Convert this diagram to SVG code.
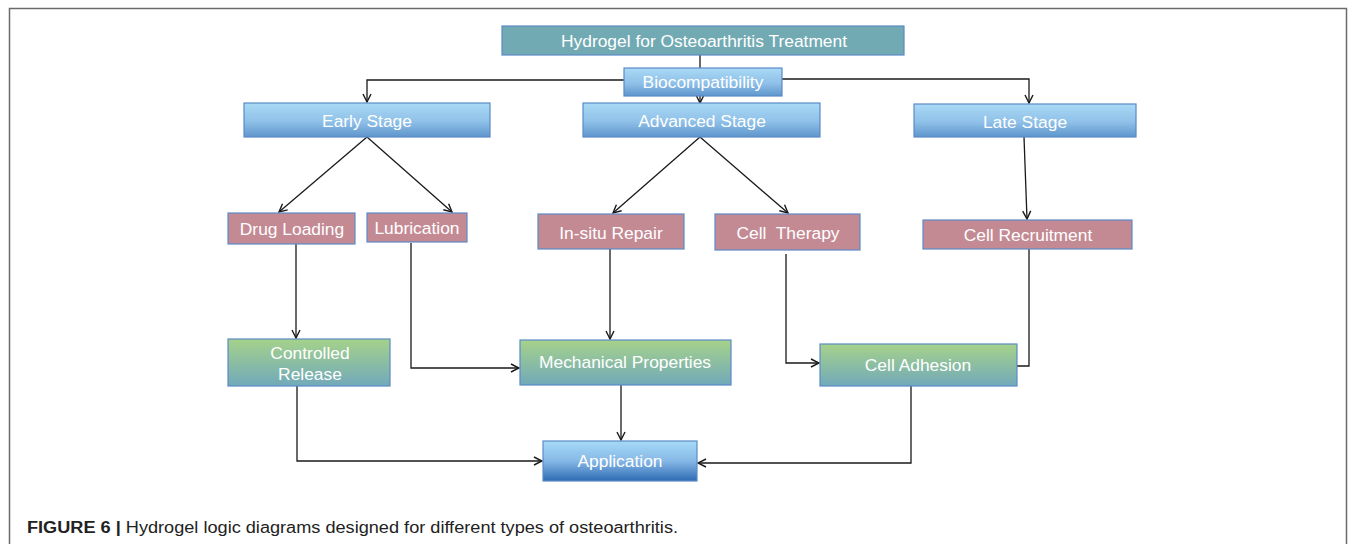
<svg xmlns="http://www.w3.org/2000/svg" width="1355" height="544" viewBox="0 0 1355 544">
<style>
.t{font-family:"Liberation Sans",Arial,sans-serif;font-size:17.4px;fill:#fff;text-anchor:middle}
.b{stroke:#5A8BC6;stroke-width:1.2}
.c{fill:none;stroke:#1a1a1a;stroke-width:1.3}
.cap{font-family:"Liberation Sans",Arial,sans-serif;font-size:16px;fill:#222}
</style>
<defs>
<linearGradient id="gb" x1="0" y1="0" x2="0" y2="1">
<stop offset="0" stop-color="#A9DAF5"/><stop offset="0.55" stop-color="#8FC0E8"/><stop offset="1" stop-color="#5E95CC"/>
</linearGradient>
<linearGradient id="ga" x1="0" y1="0" x2="0" y2="1">
<stop offset="0" stop-color="#A6DAF6"/><stop offset="0.5" stop-color="#86B8E6"/><stop offset="1" stop-color="#2E6BB4"/>
</linearGradient>
<linearGradient id="gg" x1="0" y1="0" x2="0" y2="1">
<stop offset="0" stop-color="#A6D28A"/><stop offset="1" stop-color="#71A9BA"/>
</linearGradient>
<marker id="ar" viewBox="0 0 10 10" refX="9" refY="5" markerWidth="10" markerHeight="10" markerUnits="userSpaceOnUse" orient="auto">
<path d="M1,1 L9,5 L1,9" fill="none" stroke="#1a1a1a" stroke-width="1.4"/>
</marker>
</defs>
<rect width="1355" height="544" fill="#fff"/>
<path d="M9.5,544 V8.5 H1346.5 V544" fill="none" stroke="#6b6b6b" stroke-width="1.5"/>

<g id="connectors">
<path class="c" d="M700,55 V68"/>
<path class="c" d="M624,80 H367 V102" marker-end="url(#ar)"/>
<path class="c" d="M782,79 H1029 V103" marker-end="url(#ar)"/>
<path class="c" d="M700,96 V103" marker-end="url(#ar)"/>
<path class="c" d="M367,137 L279,212" marker-end="url(#ar)"/>
<path class="c" d="M367,137 L452,212" marker-end="url(#ar)"/>
<path class="c" d="M700,137 L613,213" marker-end="url(#ar)"/>
<path class="c" d="M700,137 L788,213" marker-end="url(#ar)"/>
<path class="c" d="M1024,137 L1027,219" marker-end="url(#ar)"/>
<path class="c" d="M296,244 V338" marker-end="url(#ar)"/>
<path class="c" d="M411,243 V368 H519" marker-end="url(#ar)"/>
<path class="c" d="M610,249 V339" marker-end="url(#ar)"/>
<path class="c" d="M786,254 V363 H819" marker-end="url(#ar)"/>
<path class="c" d="M1029,249 V366 H1017"/>
<path class="c" d="M297,386 V461 H542" marker-end="url(#ar)"/>
<path class="c" d="M621,385 V440" marker-end="url(#ar)"/>
<path class="c" d="M911,386 V463 H698" marker-end="url(#ar)"/>
</g>

<g id="title"><rect x="502" y="26" width="402" height="29" fill="#72AAB4" class="b"/><text class="t" x="704" y="47">Hydrogel for Osteoarthritis Treatment</text></g>
<g id="biocompatibility"><rect x="624" y="68" width="158" height="28" fill="url(#gb)" class="b"/><text class="t" x="703" y="88">Biocompatibility</text></g>
<g id="early"><rect x="244" y="103" width="246" height="34" fill="url(#gb)" class="b"/><text class="t" x="367" y="127">Early Stage</text></g>
<g id="advanced"><rect x="583" y="103" width="237" height="34" fill="url(#gb)" class="b"/><text class="t" x="702" y="127">Advanced Stage</text></g>
<g id="late"><rect x="914" y="104" width="222" height="33" fill="url(#gb)" class="b"/><text class="t" x="1025" y="128">Late Stage</text></g>

<g id="drug"><rect x="228" y="213" width="127" height="31" fill="#C48A94" class="b"/><text class="t" x="292" y="235">Drug Loading</text></g>
<g id="lubrication"><rect x="367" y="213" width="100" height="29" fill="#C48A94" class="b"/><text class="t" x="417" y="234">Lubrication</text></g>
<g id="insitu"><rect x="538" y="214" width="146" height="35" fill="#C48A94" class="b"/><text class="t" x="611" y="239">In-situ Repair</text></g>
<g id="celltherapy"><rect x="715" y="214" width="145" height="36" fill="#C48A94" class="b"/><text class="t" x="788" y="239" xml:space="preserve">Cell  Therapy</text></g>
<g id="recruitment"><rect x="923" y="220" width="209" height="29" fill="#C48A94" class="b"/><text class="t" x="1028" y="241">Cell Recruitment</text></g>

<g id="controlled"><rect x="228" y="339" width="162" height="47" fill="url(#gg)" class="b"/><text class="t" x="310" y="359">Controlled</text><text class="t" x="310" y="380">Release</text></g>
<g id="mechanical"><rect x="520" y="340" width="211" height="45" fill="url(#gg)" class="b"/><text class="t" x="625" y="368">Mechanical Properties</text></g>
<g id="adhesion"><rect x="820" y="344" width="197" height="42" fill="url(#gg)" class="b"/><text class="t" x="918" y="371">Cell Adhesion</text></g>
<g id="application"><rect x="543" y="441" width="154" height="40" fill="url(#ga)" class="b"/><text class="t" x="620" y="467">Application</text></g>

<text class="cap" x="27" y="533" textLength="651" lengthAdjust="spacingAndGlyphs"><tspan font-weight="bold">FIGURE 6 |</tspan> Hydrogel logic diagrams designed for different types of osteoarthritis.</text>
</svg>
